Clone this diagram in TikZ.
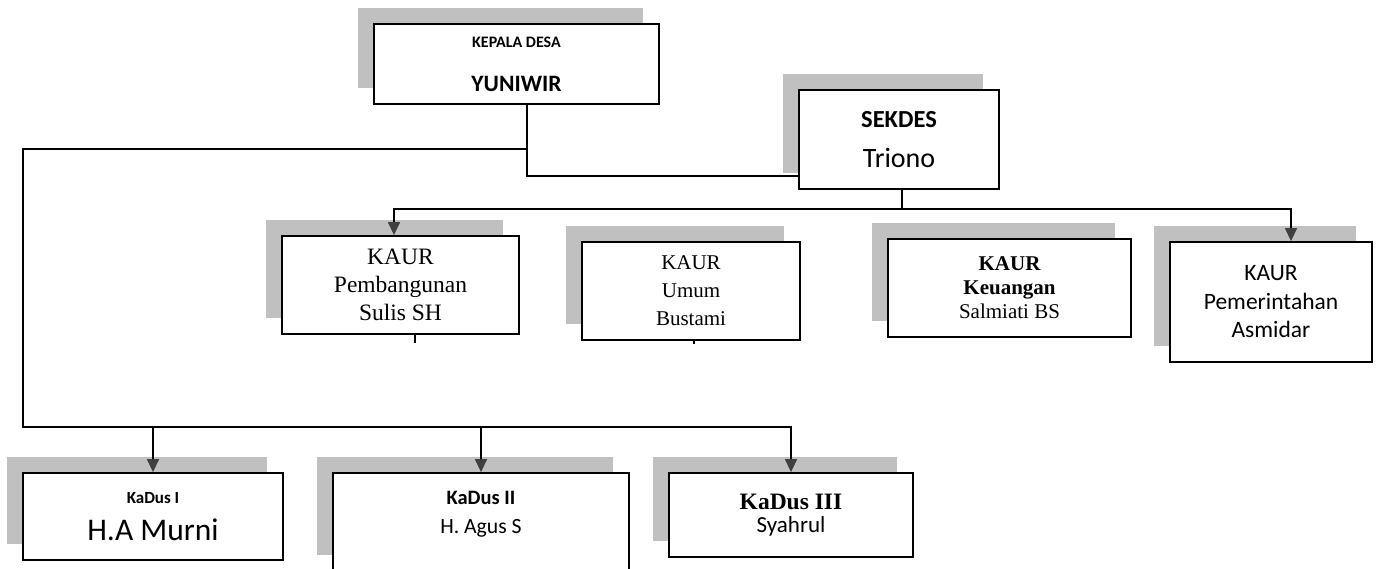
\documentclass[tikz,border=0pt]{standalone}
\usepackage{fontspec}
\setmainfont{Liberation Serif}
\newfontfamily\calibri{Carlito}
\usetikzlibrary{arrows.meta, shadows}

\definecolor{shadowgray}{RGB}{192,192,192}
\definecolor{tipgray}{RGB}{64,64,64}
\newcommand{\setfs}[2]{\fontsize{#1}{#2}\selectfont}

\begin{document}
\begin{tikzpicture}[
    x=1pt, y=-1pt,
    % Styles for boxes and lines
    box/.style={draw, rectangle, line width=1.8pt, fill=white, inner sep=0pt, align=center,
        copy shadow={shadow xshift=-16pt, shadow yshift=16pt, fill=shadowgray, draw=none}},
    line/.style={line width=1.4pt},
    connector/.style={line, -{Triangle[width=12pt, length=13pt, color=tipgray]}}
]
    \useasboundingbox (0,0) rectangle (1379,568);

    % --- NODES ---
    % Top level
    \node [box, font={\calibri\bfseries\setfs{23.5}{44}}, minimum width=285pt, minimum height=80pt]
        (kepala) at (516.5,64) {\setfs{16}{44}KEPALA DESA\\YUNIWIR};
    \node [box, font={\calibri\setfs{28}{40}}, minimum width=200pt, minimum height=99pt]
        (sekdes) at (899,139.5) {\bfseries\setfs{24.5}{40}SEKDES\\Triono};

    % KAUR row
    \node [box, font={\setfs{23.5}{28}}, minimum width=237pt, minimum height=98pt]
        (kaurpemb) at (400.5,285) {KAUR\\Pembangunan\\Sulis SH};
    \node [box, font={\setfs{21}{28}}, minimum width=218pt, minimum height=98pt]
        (kaurumum) at (691,291) {KAUR\\Umum\\Bustami};
    \node [box, font={\setfs{21}{24}}, minimum width=243pt, minimum height=98pt]
        (kaurkeu) at (1009.5,288) {\bfseries KAUR\\\bfseries Keuangan\\Salmiati BS};
    \node [box, font={\calibri\setfs{23.5}{28.5}}, minimum width=202pt, minimum height=120pt]
        (kaurpem) at (1271,302) {KAUR\\Pemerintahan\\Asmidar};

    % KaDus row
    \node [box, font={\calibri\setfs{31.5}{37}}, minimum width=260pt, minimum height=87pt]
        (kadus1) at (153,516.5) {\bfseries\setfs{17}{37}KaDus I\\H.A Murni};
    \node [box, minimum width=296pt, minimum height=98pt] (kadus2) at (481,522) {};
    \node [anchor=north, align=center, inner sep=0pt, font={\calibri\setfs{21.7}{29}}]
        (kadus2txt) at ([yshift=-19pt]kadus2.north) {\bfseries\setfs{20.5}{29}KaDus II\\H. Agus S};
    \node [box, font={\calibri\setfs{23}{23}}, minimum width=244pt, minimum height=84pt]
        (kadus3) at (791,515) {\rmfamily\bfseries\setfs{23.5}{23}KaDus III\\Syahrul};

    % junction points
    \coordinate (kd) at (527,149);
    \coordinate (ks) at (527,176);
    \coordinate (lt) at (23,149);
    \coordinate (lb) at (23,427);
    \coordinate (bus) at (902,209);

    % --- CONNECTIONS ---
    % Kepala Desa to Sekdes
    \draw [line] (kepala.south -| kd) -- (ks) -- (ks -| sekdes.west);

    % Kepala Desa to the KaDus row
    \draw [connector] (kd) -- (lt) -- (lb) -| (kadus3.north);
    \draw [connector] (kadus1.north |- lb) -- (kadus1.north);
    \draw [connector] (kadus2.north |- lb) -- (kadus2.north);

    % Sekdes to the KAUR row
    \draw [line] (sekdes.south -| bus) -- (bus);
    \draw [connector] (bus) -| ([xshift=-6.5pt]kaurpemb.north);
    \draw [connector] (bus) -| ([xshift=20pt]kaurpem.north);

    % short stubs under two KAUR boxes
    \draw [line] ([xshift=14.5pt]kaurpemb.south) -- ++(0,8);
    \draw [line] ([xshift=3pt]kaurumum.south) -- ++(0,3);

\end{tikzpicture}
\end{document}
